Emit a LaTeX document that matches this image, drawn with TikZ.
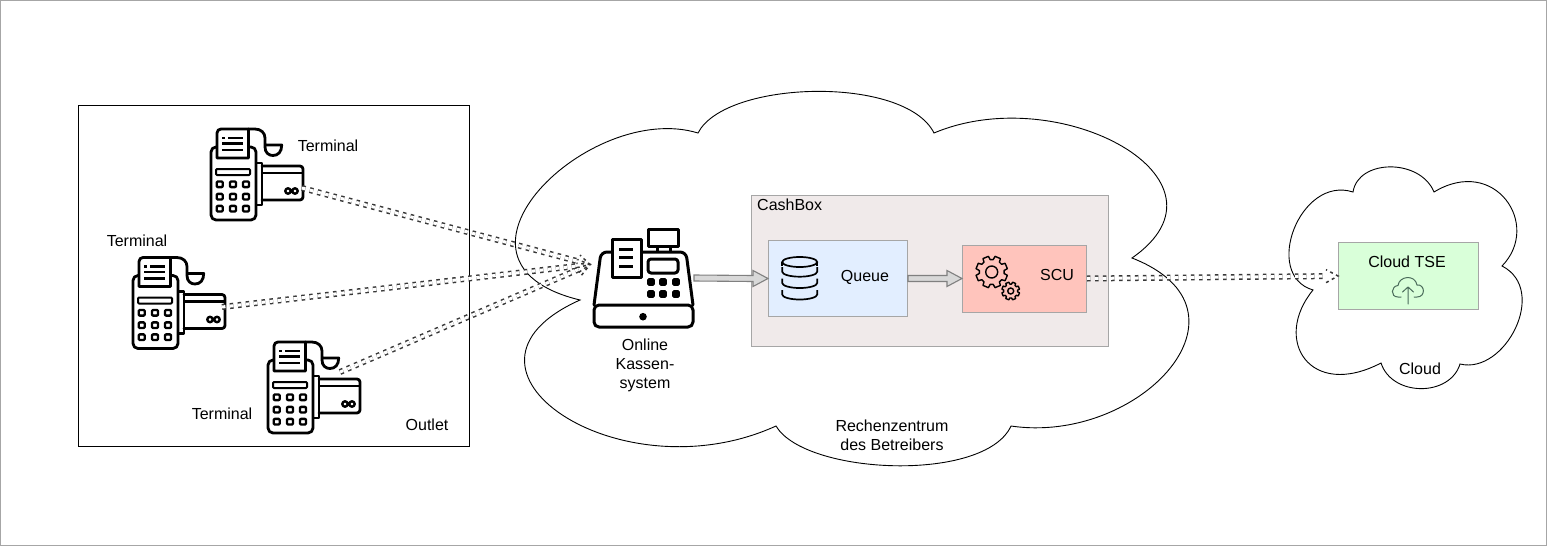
\documentclass[tikz,border=0pt]{standalone}
\usepackage{fontspec}
\setmainfont{Liberation Sans}
\usetikzlibrary{calc}
\definecolor{edgegray}{HTML}{A6A6A6}
\definecolor{boxfill}{HTML}{F0EAEA}
\definecolor{queuefill}{HTML}{E2EEFF}
\definecolor{scufill}{HTML}{FFC4BC}
\definecolor{tsefill}{HTML}{D9FFD9}
\definecolor{arrowfill}{HTML}{D8D8D8}
\definecolor{arrowedge}{HTML}{808080}
\definecolor{dashgray}{HTML}{383838}
\definecolor{iconcol}{HTML}{4A6B5A}
\tikzset{
  lbl/.style={font=\fontsize{16}{19}\selectfont, inner sep=0pt, align=center, text=black},
  panel/.style={draw=edgegray, line width=1pt, inner sep=0pt, anchor=north west},
  cloudline/.style={draw=black, line width=0.9pt, fill=white},
  blockarrow/.style={draw=arrowedge, fill=arrowfill, line width=1.1pt},
  flex/.style={draw=dashgray, line width=1.5pt, double=white, double distance=3pt, dash pattern=on 3.5pt off 4.5pt},
  flexhead/.style={draw=dashgray, line width=1.5pt, dash pattern=on 3pt off 3.5pt},
  ico/.style={line width=2.8pt, draw=black, line join=round, line cap=round},
  pics/terminal/.style={code={
    % body
    \draw[ico, rounded corners=5pt] (0,0) rectangle (45,73);
    \draw[ico, line width=2pt, rounded corners=1pt] (5,22) rectangle (39,28);
    \foreach \kx in {8.7,22,35}{\foreach \ky in {37.3,49.7,61.7}{
      \draw[ico, line width=2.4pt, rounded corners=1pt] (\kx-3,\ky-2.8) rectangle (\kx+3,\ky+2.8);
    }}
    % receipt in front of the body
    \draw[ico, fill=white] (6,11) -- (6,-14) .. controls (6,-16.5) and (8,-18) .. (10,-18) -- (37.5,-18) -- (37.5,11) -- cycle;
    \draw[ico] (37.5,-18) -- (44,-18) .. controls (50,-18) and (54,-14) .. (54,-9) -- (54,0) .. controls (54,6) and (58,8.5) .. (62,8.5) .. controls (67,8.5) and (70.7,5) .. (70.7,-2) -- (54,-2);
    \draw[ico, line width=2.2pt, line cap=butt] (17,-9) -- (32,-9) (11,-3.5) -- (32,-3.5) (11,3) -- (32,3);
    \draw[ico, line width=2.2pt, line cap=butt] (11,-9) -- (14,-9);
    % card
    \draw[ico, line cap=butt] (45,16) -- (51,16) -- (51,58) -- (45,58);
    \draw[ico, rounded corners=3pt] (51,19) -- (92,19) -- (92,53) -- (51,53);
    \draw[ico, line cap=butt] (51,26) -- (92,26);
    \draw[ico, line width=2.4pt] (77,44) circle[radius=2.7] (84,44) circle[radius=2.7];
  }},
  pics/gear/.style args={#1/#2/#3}{code={
    \draw[line width=1.4pt, line join=round]
      \foreach \a in {0,45,...,315}{
        \ifnum\a=0 ({\a-12}:#1) \else -- ({\a-12}:#1) \fi
        -- ({\a-7}:#2) -- ({\a+7}:#2) -- ({\a+12}:#1)
      } -- cycle;
    \draw[line width=1.4pt] (0,0) circle[radius=#3];
  }}
}
\newcommand{\blockarr}[2]{%
  \draw[blockarrow] ($(#1)+(0,-3)$) -- ($(#2)+(-15,-3)$) -- ($(#2)+(-15,-8)$) -- (#2) -- ($(#2)+(-15,8)$) -- ($(#2)+(-15,3)$) -- ($(#1)+(0,3)$) -- cycle;}
\newcommand{\flexarr}[2]{%
  \draw[flex] (#1) -- ($(#2)!12pt!(#1)$);
  \draw[flexhead] ($(#2)!12pt!(#1)!6.5pt!90:(#1)$) -- (#2) -- ($(#2)!12pt!(#1)!6.5pt!-90:(#1)$);}
\begin{document}
\begin{tikzpicture}[x=1pt,y=-1pt]
\useasboundingbox (0,0) rectangle (1547,546);
\draw[draw=edgegray, line width=1pt, fill=white] (0.5,0.5) rectangle (1546.5,545.5);

% outlet
\node[draw=black, line width=1pt, inner sep=0pt, minimum width=391pt, minimum height=341pt, anchor=north west] (outlet) at (77.7,104.5) {};

% data-centre cloud
\draw[cloudline] (698,133) .. controls (590,100) and (422,262) .. (580,300)
  .. controls (428,368) and (620,497) .. (776,426)
  .. controls (805,475) and (985,483) .. (1011,426)
  .. controls (1140,445) and (1265,310) .. (1132,258)
  .. controls (1244,180) and (1060,80) .. (934,133)
  .. controls (905,75) and (725,80) .. (698,133) -- cycle;

% outer cloud
\draw[cloudline] (1353,192) .. controls (1300,175) and (1262,275) .. (1313,290)
  .. controls (1272,340) and (1310,400) .. (1381,363)
  .. controls (1392,397) and (1450,397) .. (1460,364)
  .. controls (1505,375) and (1549,290) .. (1502,266)
  .. controls (1542,225) and (1495,155) .. (1434,192)
  .. controls (1420,158) and (1358,159) .. (1353,192) -- cycle;

% panels
\node[panel, fill=boxfill, minimum width=357pt, minimum height=151pt] (cashbox) at (751,194.5) {};
\node[panel, fill=queuefill, minimum width=139pt, minimum height=76pt] (queue) at (768,240) {};
\node[panel, fill=scufill, minimum width=124pt, minimum height=67pt] (scu) at (962,244.5) {};
\node[panel, fill=tsefill, minimum width=140pt, minimum height=67pt] (tse) at (1338,242) {};

% terminals
\pic at (211,147) {terminal};
\pic at (133,275.5) {terminal};
\pic at (268,360) {terminal};

% cash register
\begin{scope}[ico, line width=3pt]
  \draw[rounded corners=5pt] (594,305) rectangle (693,327);
  \draw[rounded corners=6pt] (594,305) -- (601,252) -- (612,252);
  \draw[rounded corners=6pt] (641,252) -- (686,252) -- (693,305);
  \draw[fill=white] (612,239) rectangle (641,277);
  \draw[line cap=butt] (619,249.5) -- (633,249.5) (619,257.5) -- (633,257.5) (619,266) -- (633,266);
  \draw (648.7,229) rectangle (678.7,246.7);
  \draw[line cap=butt] (657,246.7) -- (657,252) (670,246.7) -- (670,252);
  \draw[rounded corners=3pt] (648,259) rectangle (678,273);
  \foreach \kx in {651,663,676}{\foreach \ky in {282,294}{
    \fill[black, rounded corners=1.5pt] (\kx-3.8,\ky-3.8) rectangle (\kx+3.8,\ky+3.8);
  }}
  \fill[black] (643,316.7) circle[radius=3.8];
\end{scope}

% database
\begin{scope}[line width=1.7pt, draw=black]
  \draw (799.7,262) ellipse[x radius=17.5, y radius=5];
  \draw (782.2,262) -- (782.2,266) (817.2,262) -- (817.2,266);
  \foreach \yy in {271.7,283,294.5}{
    \draw (782.2,\yy-4.5) -- (782.2,\yy) arc[start angle=180, end angle=360, x radius=17.5, y radius=-5] -- (817.2,\yy-4.5);
  }
\end{scope}

% gears
\pic at (991.7,272) {gear=16/12.5/6};
\pic at (1010.7,291) {gear=9/7/3};

% upload cloud
\begin{scope}[draw=iconcol, line width=1pt, line cap=round, line join=round]
  \draw (1401,297) -- (1398,297) .. controls (1390,297) and (1391,286) .. (1398,285.5)
    .. controls (1399,276) and (1415,274) .. (1417,285) .. controls (1425,284) and (1426,297) .. (1417,297) -- (1414,297);
  \draw (1408,304) -- (1408,287) (1402.5,292) -- (1408,287) -- (1413.5,292);
\end{scope}

% connector ends
\coordinate (termAout) at (302,188);
\coordinate (termBout) at (222,307);
\coordinate (termCout) at (340,372);
\coordinate (regIn) at (590,264.5);
\coordinate (regOut) at (694,278);

\flexarr{termAout}{regIn}
\flexarr{termBout}{regIn}
\flexarr{termCout}{regIn}
\flexarr{scu.east}{tse.west}
\blockarr{regOut}{queue.west}
\blockarr{queue.east}{scu.west}

% labels
\node[lbl] (t1) at (328,146) {Terminal};
\node[lbl] (t2) at (137,241) {Terminal};
\node[lbl] (t3) at (222,414) {Terminal};
\node[lbl] (lo) at (427,425) {Outlet};
\node[lbl, anchor=west] (lc) at (757,205) {CashBox};
\node[lbl] (lq) at (865,277) {Queue};
\node[lbl] (ls) at (1057,275) {SCU};
\node[lbl] (lk) at (645,365.5) {Online\\Kassen-\\system};
\node[lbl] (lr) at (892,435.5) {Rechenzentrum\\des Betreibers};
\node[lbl] (lt) at (1407,262) {Cloud TSE};
\node[lbl] (lw) at (1420,369) {Cloud};
\end{tikzpicture}
\end{document}
